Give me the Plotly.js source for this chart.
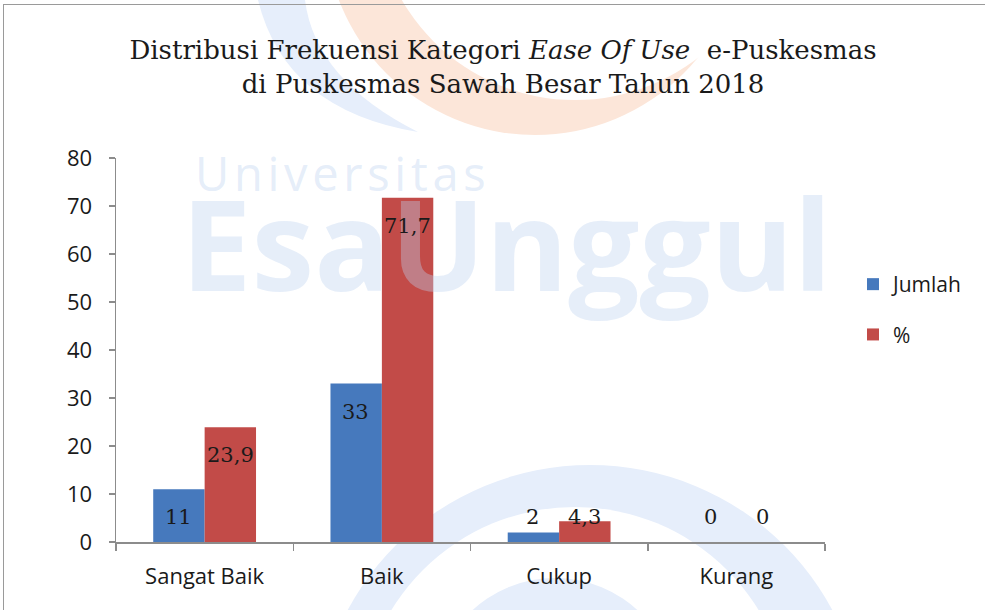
<!DOCTYPE html>
<html>
<head>
<meta charset="utf-8">
<script src="https://cdn.plot.ly/plotly-3.0.1.min.js"></script>
<style>
  html, body { margin: 0; padding: 0; background: #fff; }
  #wrap { position: relative; width: 985px; height: 610px; overflow: hidden; }
  #chart { width: 985px; height: 610px; }
  #frame { position: absolute; left: 3px; top: 4px; width: 1000px; height: 640px;
           border: 1.5px solid #9a9a9a; pointer-events: none; }
</style>
</head>
<body>
<div id="wrap">
  <div id="chart"></div>
  <div id="frame"></div>
</div>
<script>
const categories = ["Sangat Baik", "Baik", "Cukup", "Kurang"];
const jumlah = [11, 33, 2, 0];
const persen = [23.9, 71.7, 4.3, 0];
const seriesNames = ["Jumlah", "%"];
const yTicks = [0, 10, 20, 30, 40, 50, 60, 70, 80];

const blue = "#4679BD";
const red = "#C24B48";
const sansFont = "Open Sans, sans-serif";
const serifFont = "DejaVu Serif, serif";

const fmt = v => String(v).replace(".", ",");

const traces = [
  { type: "bar", name: seriesNames[0], x: categories, y: jumlah,
    marker: { color: blue }, legendgroup: "a", hoverinfo: "none" },
  { type: "bar", name: seriesNames[1], x: categories, y: persen,
    marker: { color: red }, legendgroup: "b", hoverinfo: "none" }
];

// plot-area geometry (pixels) used to place the faint background watermark
const PL = 116, PR = 825, PT = 158, PB = 542;
const px = x => (x - PL) / (PR - PL);
const py = y => (PB - y) / (PB - PT);

// data labels (Excel "inside end" style)
const pxPerUnit = (PB - PT) / 80;
const annotations = [];

// faint watermark text
annotations.push({
  xref: "paper", yref: "paper", x: px(193), y: py(139),
  xanchor: "left", yanchor: "top", showarrow: false,
  text: "U\u200An\u200Ai\u200Av\u200Ae\u200Ar\u200As\u200Ai\u200At\u200Aa\u200As",
  font: { family: sansFont, size: 47, color: "rgba(190,210,240,0.40)" }
});
annotations.push({
  xref: "paper", yref: "paper", x: px(179), y: py(154),
  xanchor: "left", yanchor: "top", showarrow: false,
  text: "<b>EsaUnggul</b>",
  font: { family: sansFont, size: 126, color: "rgba(190,210,240,0.38)" }
});

[jumlah, persen].forEach((arr, s) => {
  arr.forEach((v, i) => {
    const inside = v * pxPerUnit >= 53;
    annotations.push({
      xref: "x", yref: "y",
      x: i + (s === 0 ? -0.148 : 0.145),
      y: inside ? v : 0,
      yshift: inside ? -28 : 25,
      text: fmt(v), showarrow: false,
      xanchor: "center", yanchor: "middle",
      font: { family: serifFont, size: 21, color: "#1a1a1a" }
    });
  });
});

const circ = (cx, cy, r, color) => ({
  type: "circle", xref: "paper", yref: "paper", layer: "below",
  x0: px(cx - r), x1: px(cx + r), y0: py(cy + r), y1: py(cy - r),
  fillcolor: color, line: { width: 0 }
});
const pathPx = (pts) => "M " + pts.map(p => p[0] === "Q" ? "Q " + px(p[1]) + " " + py(p[2]) + " " + px(p[3]) + " " + py(p[4])
                                                  : "L " + px(p[0]) + " " + py(p[1])).join(" ").replace(/^L /, "") + " Z";
const wmBlue = "rgb(230,238,251)";
const wmOrange = "rgb(252,230,217)";
const shapes = [
  // left blue swoosh
  { type: "path", xref: "paper", yref: "paper", layer: "below",
    path: pathPx([[258, 0], ["Q", 285, 110, 418, 132], ["Q", 315, 80, 305, 0]]),
    fillcolor: wmBlue, line: { width: 0 } },
  // orange crescent at top
  circ(535, -75, 210, wmOrange),
  circ(575, -100, 200, "#ffffff"),
  // blue rings at bottom
  circ(590, 740, 275, wmBlue),
  circ(575, 722, 215, "#ffffff"),
  circ(555, 700, 122, wmBlue)
];

const layout = {
  width: 985, height: 610,
  margin: { l: PL, r: 985 - PR, t: PT, b: 610 - PB },
  paper_bgcolor: "#ffffff", plot_bgcolor: "rgba(0,0,0,0)",
  title: {
    text: "Distribusi Frekuensi Kategori <i>Ease Of Use</i>  e-Puskesmas<br>di Puskesmas Sawah Besar Tahun 2018",
    font: { family: serifFont, size: 26, color: "#1a1a1a" },
    x: 503 / 985, xanchor: "center", xref: "container",
    y: 1 - 59 / 610, yanchor: "middle", yref: "container"
  },
  barmode: "group", bargap: 0.42, bargroupgap: 0,
  xaxis: {
    type: "category", categoryorder: "array", categoryarray: categories,
    showline: true, linecolor: "#8c8c8c", linewidth: 1.5,
    ticks: "outside", tickson: "boundaries", ticklen: 7, tickcolor: "#8c8c8c", tickwidth: 1.5,
    showgrid: false, zeroline: false,
    tickfont: { family: sansFont, size: 22, color: "#1a1a1a" },
    ticklabelstandoff: 14, fixedrange: true
  },
  yaxis: {
    range: [0, 80], tickvals: yTicks, ticktext: yTicks.map(String),
    showline: true, linecolor: "#8c8c8c", linewidth: 1.5,
    ticks: "outside", ticklen: 6, tickcolor: "#8c8c8c", tickwidth: 1.5,
    showgrid: false, zeroline: false,
    tickfont: { family: sansFont, size: 22, color: "#1a1a1a" },
    ticklabelstandoff: 12, fixedrange: true
  },
  showlegend: true,
  legend: {
    x: px(853), xanchor: "left", y: py(264), yanchor: "top",
    traceorder: "grouped", tracegroupgap: 20,
    font: { family: sansFont, size: 21, color: "#1a1a1a" },
    bgcolor: "rgba(0,0,0,0)"
  },
  shapes: shapes,
  annotations: annotations
};

Plotly.newPlot("chart", traces, layout, { displayModeBar: false, staticPlot: true });
</script>
</body>
</html>
